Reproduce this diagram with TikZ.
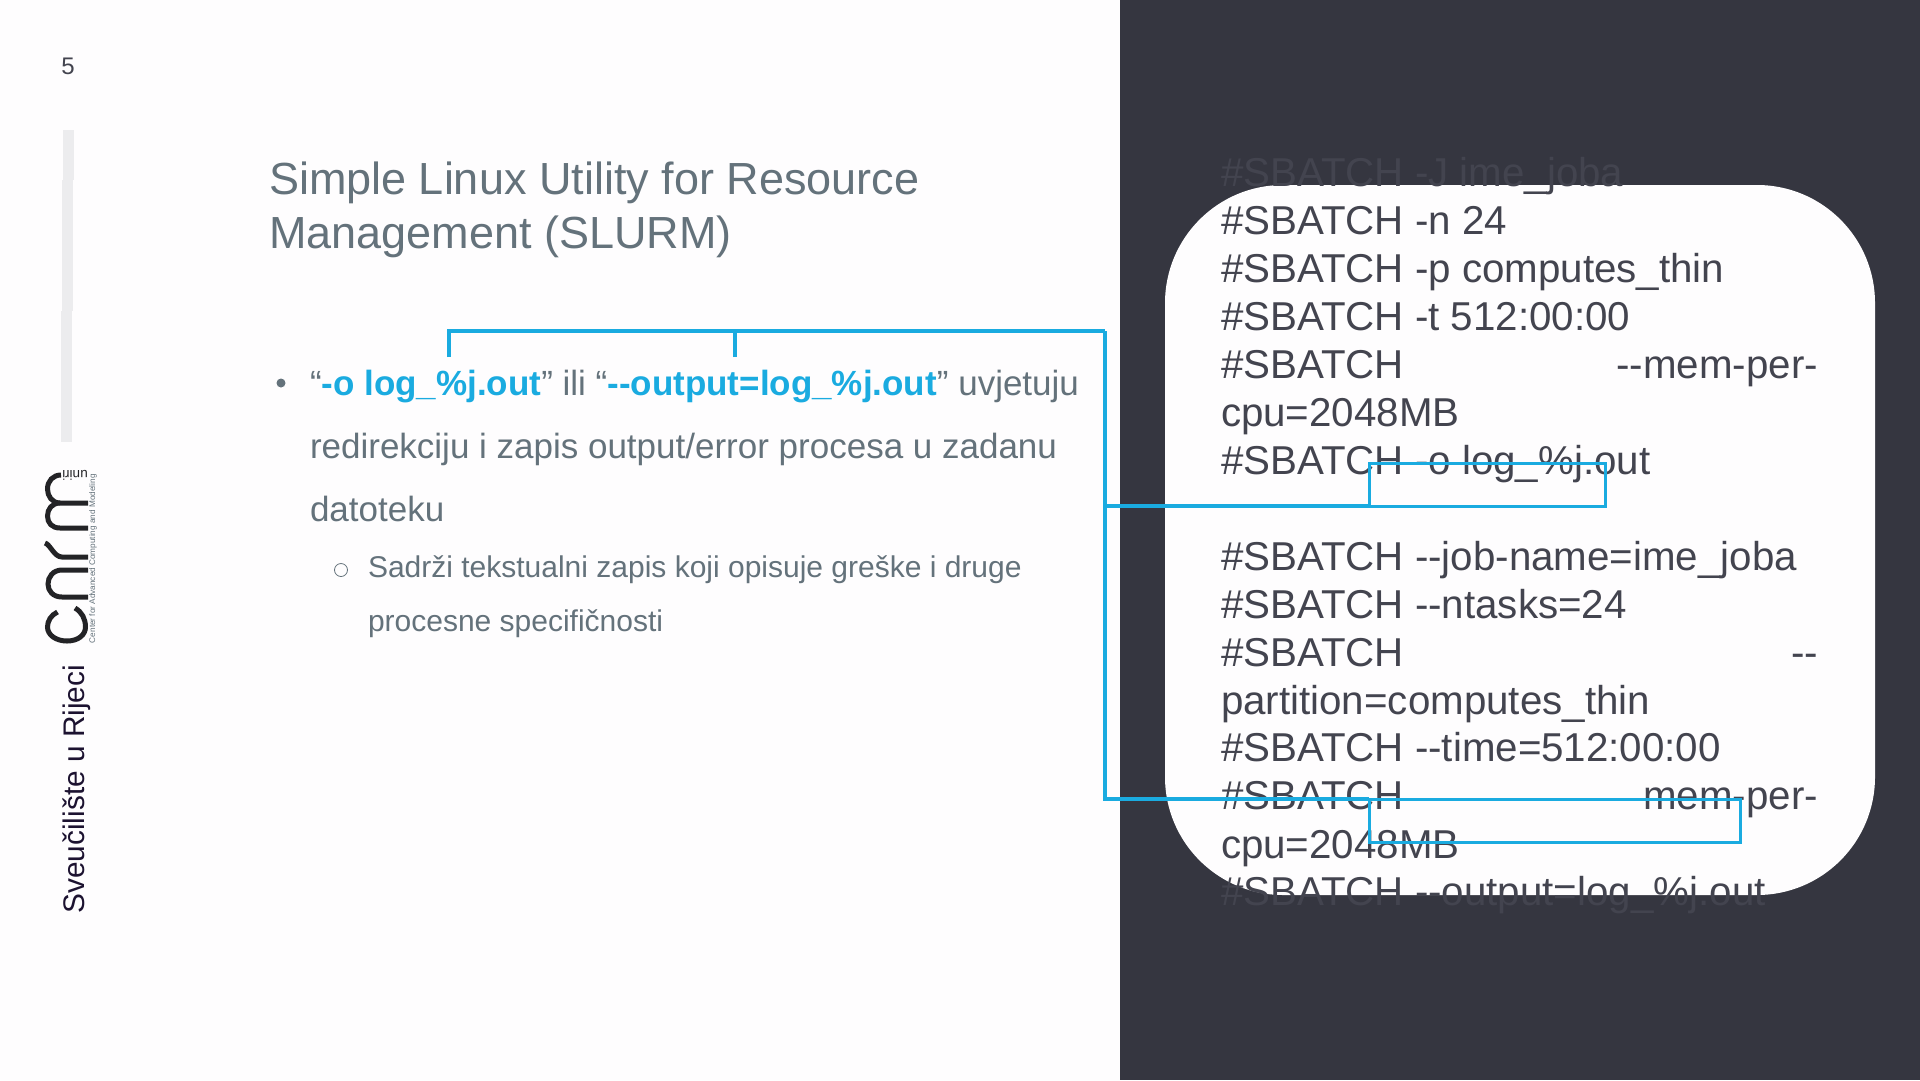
\documentclass[tikz,border=0pt]{standalone}
\usepackage{fontspec}
\setmainfont{Liberation Sans}
\definecolor{pagebg}{HTML}{FEFDFE}
\definecolor{panel}{HTML}{353640}
\definecolor{codecol}{HTML}{43444F}
\definecolor{bodycol}{HTML}{64727B}
\definecolor{accent}{HTML}{1AABE0}
\definecolor{barcol}{HTML}{ECECEE}
\definecolor{logoink}{HTML}{232326}
\definecolor{unicol}{HTML}{1C1230}
\newcommand{\fs}[1]{\fontsize{#1pt}{#1pt}\selectfont}
\tikzset{
  x=1pt,y=-1pt,
  every node/.style={inner sep=0pt,outer sep=0pt},
  code/.style={anchor=base west,text=codecol,font=\fs{40.3}},
  title/.style={anchor=base west,text=bodycol,font=\fs{45}},
  body/.style={anchor=base west,text=bodycol,font=\fs{35}},
  sub/.style={anchor=base west,text=bodycol,font=\fs{30}},
  link/.style={draw=accent,line width=4pt},
  box/.style={draw=accent,line width=3pt,rectangle},
  logostroke/.style={draw=logoink,line width=5pt,line cap=butt}
}
\newcommand{\hl}[1]{\textcolor{accent}{\bfseries #1}}
\begin{document}
\begin{tikzpicture}
\useasboundingbox (0,0) rectangle (1920,1080);
\fill[pagebg] (0,0) rectangle (1920,1080);
\fill[panel] (1120,0) rectangle (1920,1080);
\fill[pagebg,rounded corners=118pt] (1165,185) rectangle (1875,895);

% side bar
\fill[barcol] (63,130) rectangle (74,180);
\fill[barcol] (62,180) rectangle (73,311);
\fill[barcol] (61,311) rectangle (72,442);

\node[anchor=base,text=codecol,font=\fs{24}] (pageno) at (68,74) {5};

% logo
\draw[logostroke] (57.5,612) .. controls (51,615) and (47.5,621) .. (47.5,627) .. controls (47.5,635) and (56,641) .. (67,641) .. controls (78,641) and (85.5,635) .. (85.5,627) .. controls (85.5,619) and (82,612) .. (75,608);
\draw[logostroke] (88,597) -- (62,597) .. controls (53,597) and (48,591) .. (48,584) .. controls (48,577) and (53,570) .. (62,570) -- (88,570);
\draw[logostroke] (45,543) .. controls (50,544) and (54,557) .. (62,557) -- (88,557);
\draw[logostroke] (88,528) -- (60,528) .. controls (52,528) and (47.5,523) .. (47.5,516) .. controls (47.5,509) and (52,503) .. (60,503) -- (88,503);
\draw[logostroke] (60,503) .. controls (52,503) and (47.5,496) .. (47.5,489) .. controls (47.5,481) and (53,475) .. (61,475);
\node[rotate=180,anchor=center,text=logoink,font=\fs{13.5}] (uniri) at (75,475) {uniri};
\node[rotate=90,anchor=base west,text=bodycol,font=\fs{8.2}] (cacm) at (95,643) {Center for Advanced Computing and Modeling};
\node[rotate=90,anchor=base west,text=unicol,font=\fs{29.8}] (uni) at (84,913.5) {Sveučilište u Rijeci};

% title
\node[title] (t1) at (269,194) {Simple Linux Utility for Resource};
\node[title] (t2) at (269,248) {Management (SLURM)};

% body
\node[circle,fill=bodycol,minimum size=9pt] (bul) at (281,383) {};
\node[body] (b1) at (310,395) {“\hl{-o log\_\%j.out}” ili “\hl{-{}-output=log\_\%j.out}” uvjetuju};
\node[body] (b2) at (310,458) {redirekciju i zapis output/error procesa u zadanu};
\node[body] (b3) at (310,521) {datoteku};
\node[circle,draw=bodycol,line width=0.8pt,minimum size=13pt] (bulsub) at (341,570) {};
\node[sub] (s1) at (368,577) {Sadrži tekstualni zapis koji opisuje greške i druge};
\node[sub] (s2) at (368,631) {procesne specifičnosti};

% code
\node[code] (c1) at (1221,186) {\#SBATCH -J ime\_joba};
\node[code] (c2) at (1221,234) {\#SBATCH -n 24};
\node[code] (c3) at (1221,282) {\#SBATCH -p computes\_thin};
\node[code] (c4) at (1221,330) {\#SBATCH -t 512:00:00};
\node[code] (c5) at (1221,378) {\makebox[597pt][s]{\#SBATCH\hfill -{}-mem-per-}};
\node[code] (c6) at (1221,426) {cpu=2048MB};
\node[code] (c7) at (1221,474) {\#SBATCH -o log\_\%j.out};
\node[code] (c8) at (1221,570) {\#SBATCH -{}-job-name=ime\_joba};
\node[code] (c9) at (1221,618) {\#SBATCH -{}-ntasks=24};
\node[code] (c10) at (1221,666) {\makebox[597pt][s]{\#SBATCH\hfill -{}-}};
\node[code] (c11) at (1221,714) {partition=computes\_thin};
\node[code] (c12) at (1221,761) {\#SBATCH -{}-time=512:00:00};
\node[code] (c13) at (1221,809) {\makebox[597pt][s]{\#SBATCH\hfill mem-per-}};
\node[code] (c14) at (1221,858) {cpu=2048MB};
\node[code] (c15) at (1221,905) {\#SBATCH -{}-output=log\_\%j.out};

% highlight boxes and connectors
\node[box,minimum width=236pt,minimum height=43pt] (r1) at (1487,484.5) {};
\node[box,minimum width=371pt,minimum height=43pt] (r2) at (1554.5,820.5) {};
\coordinate (tickA) at (449,357);
\coordinate (tickB) at (735,357);
\coordinate (bus) at (1105,331);
\draw[link] (tickA) |- (bus);
\draw[link] (tickB) |- (bus);
\draw[link] (bus) |- (r1.south west);
\draw[link] (bus) |- (r2.north west);
\end{tikzpicture}
\end{document}
